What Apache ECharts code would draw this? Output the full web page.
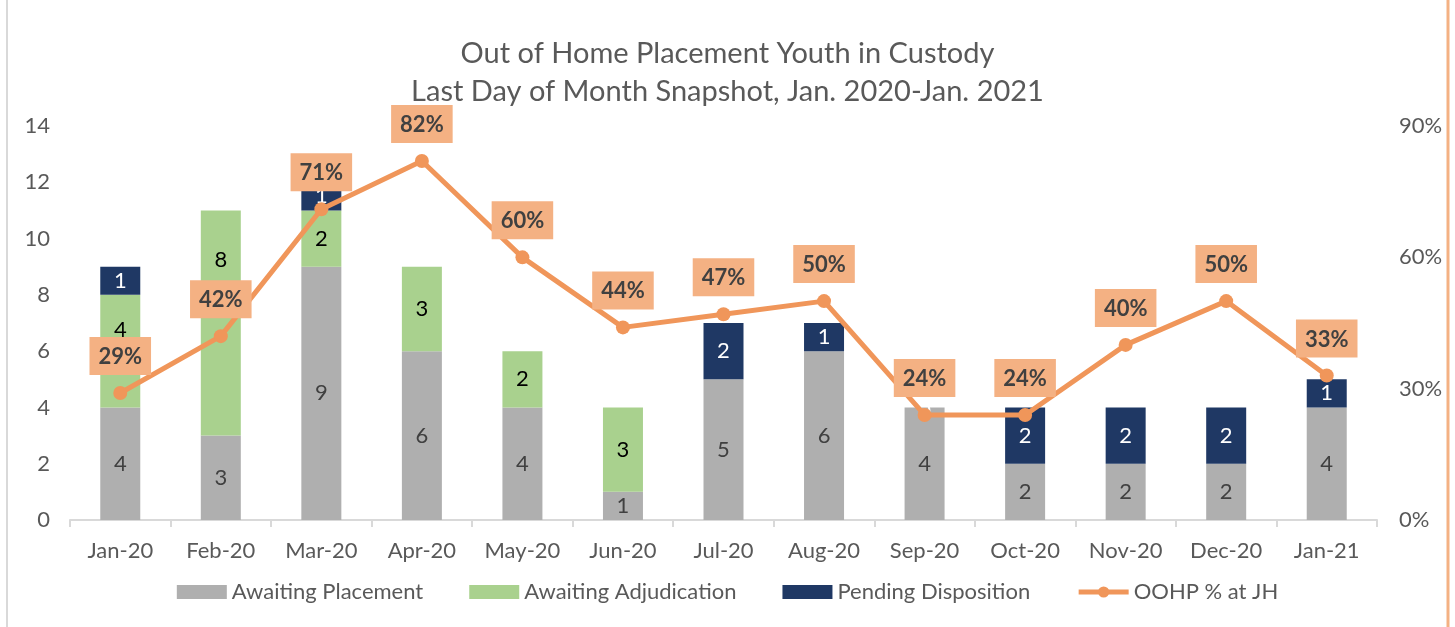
<!DOCTYPE html>
<html>
<head>
<meta charset="utf-8">
<script src="https://cdn.jsdelivr.net/npm/echarts@6/dist/echarts.min.js"></script>
<style>
  html, body { margin: 0; padding: 0; background: #fff; }
  #box { width: 1455px; height: 627px; }
</style>
</head>
<body>
<div id="box"></div>
<script>
// data
var months = ['Jan-20','Feb-20','Mar-20','Apr-20','May-20','Jun-20','Jul-20','Aug-20','Sep-20','Oct-20','Nov-20','Dec-20','Jan-21'];
var awaitingPlacement = [4,3,9,6,4,1,5,6,4,2,2,2,4];
var awaitingAdjudication = [4,8,2,3,2,3,null,null,null,null,null,null,null];
var pendingDisposition = [1,null,1,null,null,null,2,1,0,2,2,2,1];
var oohpPct = [0.29,0.42,0.71,0.82,0.60,0.44,0.47,0.50,0.24,0.24,0.40,0.50,0.33];

var txt = '#595959';
var fontName = 'Lato';

// a few labels were nudged by hand in the original (to dodge the % boxes)
var adjData = awaitingAdjudication.map(function (v, i) {
    if (i === 0) return { value: v, label: { offset: [0, -21] } };
    if (i === 1) return { value: v, label: { offset: [0, -63] } };
    return v;
});
var pendData = pendingDisposition.map(function (v) {
    if (v === 0) return { value: v, label: { position: 'top', distance: -14 } };
    return v;
});

var chart = echarts.init(document.getElementById('box'));
var option = {
    backgroundColor: '#fff',
    color: ['#afafaf', '#a9d18e', '#1f3864', '#f0965a'],
    title: {
        text: 'Out of Home Placement Youth in Custody\nLast Day of Month Snapshot, Jan. 2020-Jan. 2021',
        left: 'center',
        top: 30,
        textStyle: { fontFamily: fontName, fontSize: 29, fontWeight: 'normal', color: txt, lineHeight: 38 }
    },
    legend: {
        bottom: 19,
        left: 'center',
        itemWidth: 50,
        itemHeight: 14,
        itemGap: 46,
        textStyle: { fontFamily: fontName, fontSize: 22, color: txt },
        data: [
            { name: 'Awaiting Placement', icon: 'rect' },
            { name: 'Awaiting Adjudication', icon: 'rect' },
            { name: 'Pending Disposition', icon: 'rect' },
            { name: 'OOHP % at JH', lineStyle: { width: 5 } }
        ]
    },
    grid: { left: 70, right: 78, top: 126, bottom: 107 },
    xAxis: {
        type: 'category',
        data: months,
        axisLine: { lineStyle: { color: '#d9d9d9', width: 2 } },
        axisTick: { show: true, length: 7, lineStyle: { color: '#d9d9d9', width: 2 } },
        axisLabel: { fontFamily: fontName, fontSize: 22, color: txt, margin: 20 }
    },
    yAxis: [
        {
            type: 'value', min: 0, max: 14, interval: 2,
            splitLine: { show: false },
            axisLine: { show: false }, axisTick: { show: false },
            axisLabel: { fontFamily: fontName, fontSize: 22, color: txt, margin: 20 }
        },
        {
            type: 'value', min: 0, max: 0.9, interval: 0.3,
            splitLine: { show: false },
            axisLine: { show: false }, axisTick: { show: false },
            axisLabel: {
                fontFamily: fontName, fontSize: 22, color: txt, margin: 22,
                formatter: function (v) { return Math.round(v * 100) + '%'; }
            }
        }
    ],
    series: [
        {
            name: 'Awaiting Placement', type: 'bar', stack: 'a', barWidth: 40,
            data: awaitingPlacement,
            label: { show: true, position: 'inside', fontFamily: fontName, fontSize: 22, color: '#404040' }
        },
        {
            name: 'Awaiting Adjudication', type: 'bar', stack: 'a',
            data: adjData,
            label: { show: true, position: 'inside', fontFamily: fontName, fontSize: 22, color: '#000' }
        },
        {
            name: 'Pending Disposition', type: 'bar', stack: 'a',
            data: pendData,
            label: { show: true, position: 'inside', fontFamily: fontName, fontSize: 22, color: '#fff' }
        },
        {
            name: 'OOHP % at JH', type: 'line', yAxisIndex: 1,
            data: oohpPct,
            symbol: 'circle', symbolSize: 14,
            lineStyle: { width: 5, color: '#f0965a' },
            itemStyle: { color: '#f0965a' },
            label: {
                show: true, position: 'top', distance: 11,
                fontFamily: fontName, fontSize: 22, fontWeight: 'bold', color: '#404040',
                backgroundColor: '#f4b183', padding: [9, 9, 7, 9],
                formatter: function (p) { return Math.round(p.value * 100) + '%'; }
            },
            z: 5
        }
    ],
    graphic: [
        { type: 'line', shape: { x1: 7, y1: 0, x2: 7, y2: 627 }, style: { stroke: '#d9d9d9', lineWidth: 2 } },
        { type: 'line', shape: { x1: 1448, y1: 0, x2: 1448, y2: 627 }, style: { stroke: '#f4b183', lineWidth: 3 } }
    ]
};
chart.setOption(option);
</script>
</body>
</html>
